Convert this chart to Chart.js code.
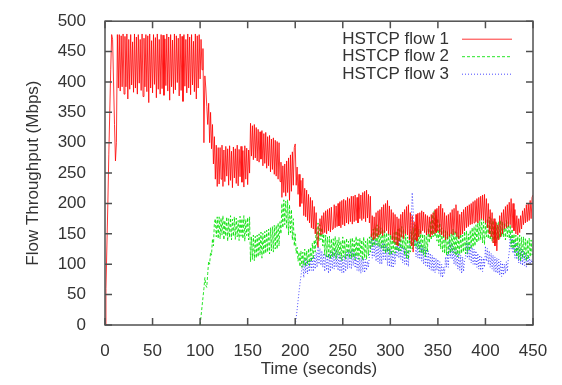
<!DOCTYPE html>
<html>
<head>
<meta charset="utf-8">
<script src="https://cdn.jsdelivr.net/npm/chart.js@4.4.1/dist/chart.umd.min.js"></script>
<style>
  html, body { margin: 0; padding: 0; background: #fff; }
  #wrap { width: 562px; height: 385px; }
</style>
</head>
<body>
<div id="wrap"><canvas id="tput" width="562" height="385"></canvas></div>
<script>
// sample times (seconds), one per second
const times = [
  0, 1, 2, 3, 4, 5, 6, 7, 8, 9,
  10, 11, 12, 13, 14, 15, 16, 17, 18, 19,
  20, 21, 22, 23, 24, 25, 26, 27, 28, 29,
  30, 31, 32, 33, 34, 35, 36, 37, 38, 39,
  40, 41, 42, 43, 44, 45, 46, 47, 48, 49,
  50, 51, 52, 53, 54, 55, 56, 57, 58, 59,
  60, 61, 62, 63, 64, 65, 66, 67, 68, 69,
  70, 71, 72, 73, 74, 75, 76, 77, 78, 79,
  80, 81, 82, 83, 84, 85, 86, 87, 88, 89,
  90, 91, 92, 93, 94, 95, 96, 97, 98, 99,
  100, 101, 102, 103, 104, 105, 106, 107, 108, 109,
  110, 111, 112, 113, 114, 115, 116, 117, 118, 119,
  120, 121, 122, 123, 124, 125, 126, 127, 128, 129,
  130, 131, 132, 133, 134, 135, 136, 137, 138, 139,
  140, 141, 142, 143, 144, 145, 146, 147, 148, 149,
  150, 151, 152, 153, 154, 155, 156, 157, 158, 159,
  160, 161, 162, 163, 164, 165, 166, 167, 168, 169,
  170, 171, 172, 173, 174, 175, 176, 177, 178, 179,
  180, 181, 182, 183, 184, 185, 186, 187, 188, 189,
  190, 191, 192, 193, 194, 195, 196, 197, 198, 199,
  200, 201, 202, 203, 204, 205, 206, 207, 208, 209,
  210, 211, 212, 213, 214, 215, 216, 217, 218, 219,
  220, 221, 222, 223, 224, 225, 226, 227, 228, 229,
  230, 231, 232, 233, 234, 235, 236, 237, 238, 239,
  240, 241, 242, 243, 244, 245, 246, 247, 248, 249,
  250, 251, 252, 253, 254, 255, 256, 257, 258, 259,
  260, 261, 262, 263, 264, 265, 266, 267, 268, 269,
  270, 271, 272, 273, 274, 275, 276, 277, 278, 279,
  280, 281, 282, 283, 284, 285, 286, 287, 288, 289,
  290, 291, 292, 293, 294, 295, 296, 297, 298, 299,
  300, 301, 302, 303, 304, 305, 306, 307, 308, 309,
  310, 311, 312, 313, 314, 315, 316, 317, 318, 319,
  320, 321, 322, 323, 324, 325, 326, 327, 328, 329,
  330, 331, 332, 333, 334, 335, 336, 337, 338, 339,
  340, 341, 342, 343, 344, 345, 346, 347, 348, 349,
  350, 351, 352, 353, 354, 355, 356, 357, 358, 359,
  360, 361, 362, 363, 364, 365, 366, 367, 368, 369,
  370, 371, 372, 373, 374, 375, 376, 377, 378, 379,
  380, 381, 382, 383, 384, 385, 386, 387, 388, 389,
  390, 391, 392, 393, 394, 395, 396, 397, 398, 399,
  400, 401, 402, 403, 404, 405, 406, 407, 408, 409,
  410, 411, 412, 413, 414, 415, 416, 417, 418, 419,
  420, 421, 422, 423, 424, 425, 426, 427, 428, 429,
  430, 431, 432, 433, 434, 435, 436, 437, 438, 439,
  440, 441, 442, 443, 444, 445, 446, 447, 448, 449,
  450
];

// flow 1, from t=0
const flow1 = [
  0, 60, 130, 200, 280, 350, 420, 478, 470, 400,
  330, 270, 300, 478, 390, 478, 385, 476, 392, 479,
  380, 475, 392, 479, 372, 470, 388, 478, 395, 466,
  383, 479, 390, 474, 380, 478, 398, 470, 386, 479,
  376, 472, 392, 478, 384, 476, 366, 479, 390, 468,
  382, 478, 396, 473, 374, 479, 388, 470, 380, 478,
  389, 477, 378, 471, 394, 479, 385, 474, 370, 478,
  392, 469, 381, 479, 387, 476, 399, 472, 377, 479,
  386, 475, 368, 478, 393, 470, 382, 479, 390, 474,
  379, 478, 395, 467, 384, 479, 372, 476, 390, 478,
  405, 470, 420, 455, 300, 410, 390, 360, 330, 365,
  300, 350, 290, 330, 265, 310, 240, 296, 228, 292,
  232, 292, 240, 296, 228, 288, 236, 294, 245, 290,
  230, 295, 238, 286, 226, 293, 242, 290, 233, 296,
  229, 289, 244, 294, 235, 287, 227, 295, 240, 291,
  231, 288, 250, 332, 278, 328, 272, 330, 275, 325,
  270, 322, 268, 318, 273, 320, 262, 315, 266, 317,
  258, 310, 262, 312, 252, 306, 256, 308, 248, 304,
  245, 302, 240, 300, 236, 268, 210, 262, 218, 265,
  212, 270, 218, 275, 205, 280, 220, 285, 230, 292,
  298, 230, 260, 215, 248, 195, 238, 200, 242, 180,
  225, 178, 222, 172, 215, 168, 210, 160, 205, 158,
  195, 150, 185, 140, 128, 165, 175, 148, 180, 150,
  185, 152, 188, 150, 190, 155, 192, 153, 194, 157,
  158, 198, 160, 196, 162, 200, 163, 203, 160, 205,
  165, 207, 163, 205, 168, 210, 166, 208, 170, 212,
  166, 212, 170, 214, 172, 210, 168, 216, 175, 214,
  172, 218, 175, 220, 170, 222, 176, 215, 168, 212,
  145, 180, 140, 178, 142, 185, 145, 188, 148, 190,
  150, 194, 147, 198, 152, 200, 155, 205, 150, 196,
  148, 190, 140, 185, 136, 182, 132, 178, 130, 175,
  138, 182, 145, 186, 142, 190, 150, 195, 148, 198,
  140, 185, 130, 180, 120, 170, 140, 182, 138, 184,
  145, 185, 150, 188, 155, 186, 152, 182, 148, 180,
  150, 178, 145, 182, 148, 185, 150, 190, 152, 192,
  155, 196, 150, 199, 148, 192, 145, 185, 140, 180,
  142, 182, 146, 185, 150, 190, 148, 192, 152, 198,
  145, 188, 142, 182, 148, 186, 150, 190, 155, 194,
  160, 196, 162, 198, 165, 200, 166, 203, 168, 205,
  170, 208, 168, 210, 172, 212, 175, 214, 172, 215,
  168, 208, 160, 200, 150, 190, 145, 185, 135, 175,
  130, 170, 122, 165, 140, 180, 145, 185, 150, 190,
  158, 195, 160, 198, 162, 202, 165, 208, 160, 200,
  155, 190, 150, 180, 148, 175, 152, 180, 158, 188,
  165, 192, 168, 198, 170, 200, 172, 205, 175, 210,
  214
];

// flow 2, from t=100
const flow2 = [
  0, 15, 30, 45, 60, 78, 65, 62, 85, 105,
  100, 120, 115, 142, 130, 168, 175, 145, 178, 142,
  178, 142, 176, 148, 180, 140, 172, 146, 178, 138,
  175, 144, 180, 140, 174, 146, 178, 141, 176, 145,
  172, 139, 179, 146, 175, 142, 180, 138, 174, 147,
  177, 140, 178, 104, 145, 108, 148, 106, 146, 110,
  148, 112, 150, 115, 153, 110, 151, 116, 154, 118,
  156, 120, 158, 117, 160, 122, 162, 120, 164, 125,
  164, 125, 168, 130, 170, 150, 200, 160, 206, 165,
  204, 158, 206, 148, 198, 152, 190, 140, 175, 130,
  150, 118, 128, 105, 120, 96, 122, 95, 120, 98,
  125, 96, 122, 100, 126, 98, 128, 104, 135, 108,
  140, 120, 160, 130, 168, 138, 165, 140, 160, 130,
  150, 115, 148, 112, 145, 110, 146, 108, 142, 112,
  142, 112, 146, 108, 140, 115, 144, 110, 138, 106,
  145, 112, 140, 108, 143, 114, 138, 110, 142, 109,
  144, 111, 139, 107, 146, 113, 141, 108, 143, 112,
  140, 106, 145, 110, 138, 108, 142, 114, 145, 120,
  150, 128, 158, 130, 162, 132, 165, 130, 162, 128,
  160, 125, 158, 122, 155, 118, 152, 120, 150, 116,
  150, 115, 148, 120, 152, 118, 155, 122, 158, 120,
  160, 122, 162, 125, 158, 115, 150, 110, 145, 108,
  145, 120, 155, 125, 160, 130, 165, 128, 162, 125,
  158, 120, 155, 118, 150, 115, 148, 112, 155, 120,
  160, 135, 170, 140, 182, 145, 188, 145, 180, 138,
  175, 130, 168, 125, 160, 120, 158, 118, 155, 115,
  155, 115, 150, 118, 152, 120, 158, 118, 155, 114,
  152, 112, 148, 116, 150, 118, 148, 120, 154, 117,
  155, 118, 150, 122, 156, 125, 160, 128, 162, 130,
  165, 135, 170, 138, 172, 140, 175, 135, 170, 132,
  168, 145, 175, 142, 178, 140, 175, 138, 172, 135,
  165, 135, 168, 140, 170, 142, 172, 145, 170, 145,
  168, 140, 172, 145, 170, 142, 165, 128, 158, 125,
  150, 118, 148, 112, 146, 108, 148, 105, 145, 110,
  145, 110, 142, 105, 140, 108, 143, 112, 140, 115,
  118
];

// flow 3, from t=200
const flow3 = [
  0, 12, 25, 40, 55, 68, 80, 92, 100, 78,
  110, 85, 108, 84, 105, 88, 110, 90, 112, 88,
  115, 92, 120, 95, 130, 100, 126, 98, 122, 95,
  118, 88, 116, 90, 115, 85, 118, 88, 120, 92,
  120, 92, 125, 95, 122, 90, 118, 88, 115, 86,
  112, 85, 116, 88, 120, 92, 124, 95, 122, 92,
  125, 98, 120, 94, 118, 90, 114, 88, 110, 85,
  112, 88, 110, 86, 108, 90, 105, 95, 115, 120,
  145, 110, 142, 112, 140, 105, 138, 104, 135, 100,
  132, 100, 138, 108, 135, 106, 130, 98, 128, 96,
  125, 95, 122, 94, 120, 100, 130, 112, 140, 110,
  138, 108, 132, 102, 128, 100, 125, 98, 122, 96,
  130, 150, 170, 218, 190, 130, 145, 112, 140, 110,
  138, 108, 135, 105, 130, 100, 128, 98, 125, 95,
  122, 92, 118, 90, 115, 88, 112, 86, 110, 90,
  108, 85, 104, 80, 100, 78, 95, 85, 112, 95,
  120, 95, 140, 110, 135, 108, 130, 100, 126, 98,
  122, 92, 118, 90, 115, 85, 112, 88, 108, 110,
  138, 110, 135, 108, 132, 102, 128, 100, 125, 98,
  122, 95, 118, 92, 115, 90, 112, 88, 110, 95,
  130, 105, 126, 100, 122, 95, 118, 92, 115, 88,
  112, 86, 110, 85, 108, 82, 105, 80, 102, 82,
  100, 85, 104, 88, 108, 120, 150, 125, 145, 118,
  140, 110, 135, 108, 130, 102, 128, 100, 125, 98,
  122, 98, 118, 95, 115, 98, 112, 100, 108, 102,
  105
];

const labels = ["HSTCP flow 1", "HSTCP flow 2", "HSTCP flow 3"];
const xTicks = [0, 50, 100, 150, 200, 250, 300, 350, 400, 450];
const yTicks = [0, 50, 100, 150, 200, 250, 300, 350, 400, 450, 500];

function pts(vals, t) {
  return vals.map((v, i) => ({ x: t[i], y: v }));
}

const FONT = { family: "'Liberation Sans', Arial, sans-serif", size: 17 };
const TXT = "#333";

// gnuplot style box + inward ticks on all four sides
const frame = {
  id: "frame",
  afterDatasetsDraw(chart) {
    const { ctx, chartArea: a, scales } = chart;
    ctx.save();
    ctx.strokeStyle = "#505050";
    ctx.lineWidth = 1.5;
    ctx.strokeRect(a.left, a.top, a.right - a.left, a.bottom - a.top);
    ctx.beginPath();
    xTicks.forEach((v) => {
      const x = scales.x.getPixelForValue(v);
      ctx.moveTo(x, a.bottom); ctx.lineTo(x, a.bottom - 7);
      ctx.moveTo(x, a.top); ctx.lineTo(x, a.top + 7);
    });
    yTicks.forEach((v) => {
      const y = scales.y.getPixelForValue(v);
      ctx.moveTo(a.left, y); ctx.lineTo(a.left + 7, y);
      ctx.moveTo(a.right, y); ctx.lineTo(a.right - 7, y);
    });
    ctx.stroke();
    ctx.restore();
  },
};

// legend: text right aligned, line sample on the right
const keyBox = {
  id: "keyBox",
  afterDraw(chart) {
    const { ctx, chartArea: a } = chart;
    ctx.save();
    ctx.font = FONT.size + "px " + FONT.family;
    ctx.textAlign = "right";
    ctx.textBaseline = "middle";
    chart.data.datasets.forEach((ds, i) => {
      const y = a.top + 18 + i * 17.5;
      ctx.fillStyle = TXT;
      ctx.fillText(ds.label, a.right - 84, y);
      ctx.strokeStyle = ds.borderColor;
      ctx.lineWidth = 1;
      ctx.setLineDash(ds.borderDash || []);
      ctx.beginPath();
      ctx.moveTo(a.right - 71, y);
      ctx.lineTo(a.right - 21, y);
      ctx.stroke();
    });
    ctx.restore();
  },
};

new Chart(document.getElementById("tput"), {
  type: "line",
  data: {
    datasets: [
      {
        label: labels[0],
        data: pts(flow1, times),
        borderColor: "rgba(255, 0, 0, 0.8)",
        borderWidth: 1,
      },
      {
        label: labels[1],
        data: pts(flow2, times.slice(100)),
        borderColor: "rgba(0, 225, 0, 0.85)",
        borderWidth: 1,
        borderDash: [3, 2],
      },
      {
        label: labels[2],
        data: pts(flow3, times.slice(200)),
        borderColor: "rgba(30, 30, 255, 0.8)",
        borderWidth: 1,
        borderDash: [1, 2],
      },
    ],
  },
  options: {
    responsive: false,
    animation: false,
    elements: { point: { radius: 0 }, line: { tension: 0 } },
    layout: { padding: { top: 11, right: 29, left: 0, bottom: 0 } },
    plugins: { legend: { display: false }, tooltip: { enabled: false } },
    scales: {
      x: {
        type: "linear",
        min: 0,
        max: 450,
        afterFit: (s) => { s.height = 60; },
        afterBuildTicks: (s) => { s.ticks = xTicks.map((v) => ({ value: v })); },
        grid: { display: false },
        border: { display: false },
        ticks: { color: TXT, font: FONT, padding: 8, maxRotation: 0 },
        title: { display: true, text: "Time (seconds)", color: TXT, font: FONT, padding: { bottom: 5 } },
      },
      y: {
        min: 0,
        max: 500,
        afterFit: (s) => { s.width = 105; },
        afterBuildTicks: (s) => { s.ticks = yTicks.map((v) => ({ value: v })); },
        grid: { display: false },
        border: { display: false },
        ticks: { color: TXT, font: FONT, padding: 11 },
        title: { display: true, text: "Flow Throughput (Mbps)", color: TXT, font: FONT, padding: { top: 23 } },
      },
    },
  },
  plugins: [frame, keyBox],
});
</script>
</body>
</html>
